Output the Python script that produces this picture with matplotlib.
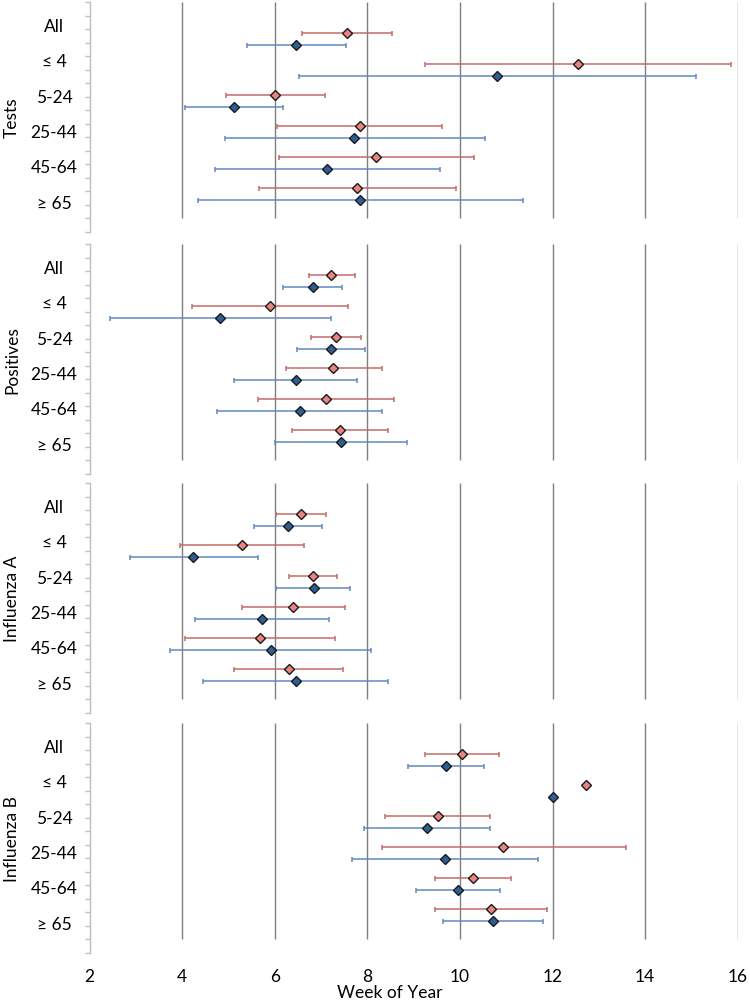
import numpy as np
import matplotlib
matplotlib.use("Agg")
import matplotlib.pyplot as plt

plt.rcParams['font.family'] = ['Lato', 'DejaVu Sans']

groups = ['All', '≤ 4', '5-24', '25-44', '45-64', '≥ 65']
panels = ['Tests', 'Positives', 'Influenza A', 'Influenza B']
x_ticks = [2, 4, 6, 8, 10, 12, 14, 16]

tests_red = [7.56, 12.55, 6.00, 7.84, 8.18, 7.77]
tests_red_lo = [6.58, 9.24, 4.94, 6.05, 6.08, 5.66]
tests_red_hi = [8.54, 15.86, 7.08, 9.62, 10.31, 9.91]
tests_blue = [6.46, 10.81, 5.12, 7.72, 7.13, 7.85]
tests_blue_lo = [5.40, 6.52, 4.06, 4.92, 4.71, 4.35]
tests_blue_hi = [7.54, 15.10, 6.17, 10.53, 9.56, 11.36]

pos_red = [7.21, 5.89, 7.32, 7.26, 7.10, 7.41]
pos_red_lo = [6.73, 4.21, 6.79, 6.24, 5.63, 6.37]
pos_red_hi = [7.73, 7.59, 7.86, 8.31, 8.57, 8.44]
pos_blue = [6.82, 4.82, 7.21, 6.45, 6.54, 7.43]
pos_blue_lo = [6.17, 2.43, 6.47, 5.12, 4.75, 6.00]
pos_blue_hi = [7.46, 7.21, 7.94, 7.78, 8.32, 8.86]

fluA_red = [6.56, 5.30, 6.82, 6.40, 5.68, 6.30]
fluA_red_lo = [6.02, 3.96, 6.31, 5.28, 4.06, 5.11]
fluA_red_hi = [7.10, 6.62, 7.35, 7.52, 7.30, 7.48]
fluA_blue = [6.28, 4.24, 6.84, 5.72, 5.91, 6.45]
fluA_blue_lo = [5.55, 2.86, 6.03, 4.27, 3.73, 4.45]
fluA_blue_hi = [7.02, 5.63, 7.63, 7.17, 8.08, 8.44]

fluB_red = [10.04, 12.73, 9.52, 10.94, 10.28, 10.68]
fluB_red_lo = [9.24, np.nan, 8.39, 8.31, 9.47, 9.47]
fluB_red_hi = [10.84, np.nan, 10.65, 13.58, 11.10, 11.89]
fluB_blue = [9.70, 12.02, 9.29, 9.67, 9.95, 10.71]
fluB_blue_lo = [8.87, np.nan, 7.93, 7.67, 9.05, 9.63]
fluB_blue_hi = [10.52, np.nan, 10.64, 11.68, 10.86, 11.80]

series = [
    (tests_red, tests_red_lo, tests_red_hi, tests_blue, tests_blue_lo, tests_blue_hi),
    (pos_red, pos_red_lo, pos_red_hi, pos_blue, pos_blue_lo, pos_blue_hi),
    (fluA_red, fluA_red_lo, fluA_red_hi, fluA_blue, fluA_blue_lo, fluA_blue_hi),
    (fluB_red, fluB_red_lo, fluB_red_hi, fluB_blue, fluB_blue_lo, fluB_blue_hi),
]

W, H = 750, 1003
fig = plt.figure(figsize=(W / 100, H / 100), dpi=100)

panel_tops = [3, 245, 484, 724]
panel_h = 230
ax_left = 89.7
ax_w = 648.0

red_err = '#C26B68'
red_face = '#E98480'
blue_err = '#6289C0'
blue_face = '#2E5F94'
edge = '#1A1A1A'
grid_c = '#7F7F7F'
spine_c = '#BFBFBF'

idx = np.arange(len(groups))
red_y = 2.28 + 2.29 * idx
blue_y = red_y + 0.92
label_y = 1.75 + 2.62 * idx

for p, (name, data) in enumerate(zip(panels, series)):
    top = panel_tops[p]
    ax = fig.add_axes([ax_left / W, 1 - (top + panel_h) / H, ax_w / W, panel_h / H])
    ax.set_xlim(2, 16)
    ax.set_ylim(17, 0)
    for s in ['top', 'right', 'bottom']:
        ax.spines[s].set_visible(False)
    ax.spines['left'].set_color(spine_c)
    ax.spines['left'].set_linewidth(1.0)

    ax.vlines(x_ticks[1:], 0, 16, colors=grid_c, linewidth=1.0, zorder=1)

    r, rlo, rhi, b, blo, bhi = [np.array(a, dtype=float) for a in data]
    for vals, lo, hi, yy, ec, fc in [(r, rlo, rhi, red_y, red_err, red_face),
                                      (b, blo, bhi, blue_y, blue_err, blue_face)]:
        xerr = np.vstack([vals - lo, hi - vals])
        ax.errorbar(vals, yy, xerr=xerr, fmt='none', ecolor=ec, elinewidth=1.1,
                    capsize=1.8, capthick=1.1, zorder=2)
        ax.plot(vals, yy, linestyle='none', marker='D', markersize=5.3,
                markerfacecolor=fc, markeredgecolor=edge, markeredgewidth=1.0, zorder=3)

    ax.set_yticks([])
    ax.set_yticks(np.arange(0, 18), minor=True)
    ax.tick_params(axis='y', which='minor', length=3.5, width=1.0, color=spine_c, direction='out')
    ax.set_yticklabels([], minor=True)

    ytrans = ax.get_yaxis_transform()
    for g, ly in zip(groups, label_y):
        ax.text(-0.055, ly, g, transform=ytrans, ha='center', va='center', fontsize=12.5,
                color='#000000')
    ax.text(-0.120, 8.5, name, transform=ytrans, ha='center', va='center', fontsize=12.5,
            rotation=90, color='#000000')

    ax.set_xticks(x_ticks)
    ax.tick_params(axis='x', which='both', length=0)
    if p == 3:
        ax.set_xticklabels([str(t) for t in x_ticks], fontsize=12.5)
        ax.tick_params(axis='x', pad=11)
    else:
        ax.set_xticklabels([])

fig.text(390 / W, 1 - 993 / H, 'Week of Year', ha='center', va='center', fontsize=12.5)

fig.savefig('out.png', dpi=100)
